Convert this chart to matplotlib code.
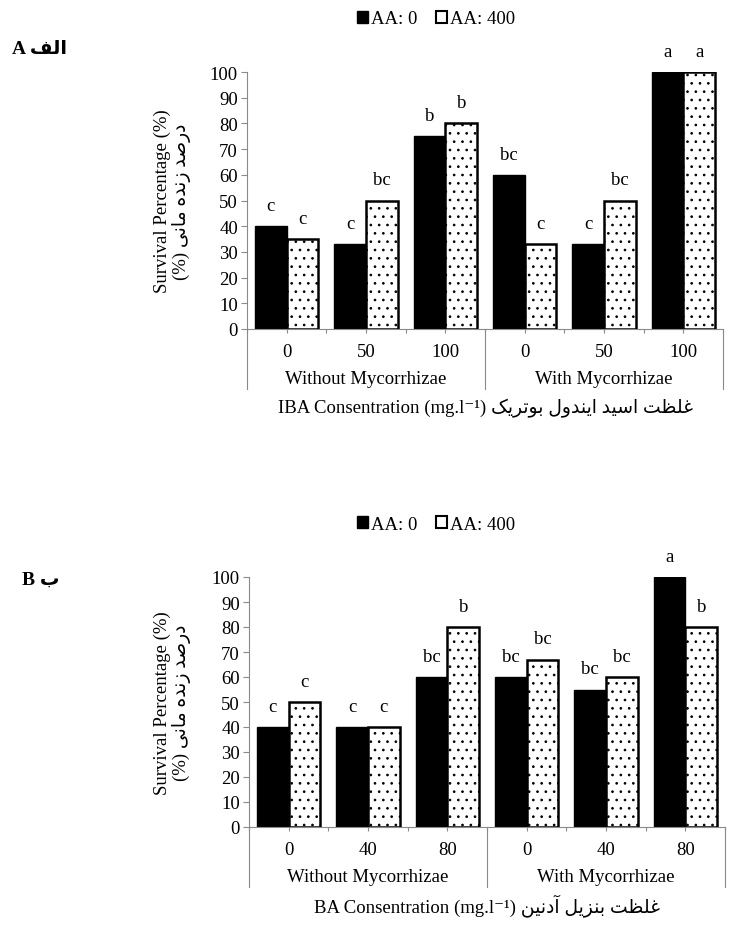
import numpy as np
import matplotlib
matplotlib.use('Agg')
import matplotlib.pyplot as plt
from matplotlib.patches import Patch

plt.rcParams['font.family'] = ['Liberation Serif', 'DejaVu Sans']
plt.rcParams['hatch.linewidth'] = 0.7

# --- data ---
series = ['AA: 0', 'AA: 400']
groups = ['Without Mycorrhizae', 'With Mycorrhizae']

doses_a = ['0', '50', '100', '0', '50', '100']
aa0_a = [40, 33, 75, 60, 33, 100]
aa400_a = [35, 50, 80, 33, 50, 100]
let0_a = ['c', 'c', 'b', 'bc', 'c', 'a']
let400_a = ['c', 'bc', 'b', 'c', 'bc', 'a']

doses_b = ['0', '40', '80', '0', '40', '80']
aa0_b = [40, 40, 60, 60, 55, 100]
aa400_b = [50, 40, 80, 67, 60, 80]
let0_b = ['c', 'c', 'bc', 'bc', 'bc', 'a']
let400_b = ['c', 'c', 'b', 'bc', 'bc', 'b']

# --- simple Persian shaping (matplotlib has no bidi/shaping) ---
FORMS = {
    'ا': ('\uFE8D', '\uFE8E', None, None),
    'آ': ('\uFE81', '\uFE82', None, None),
    'ب': ('\uFE8F', '\uFE90', '\uFE91', '\uFE92'),
    'ت': ('\uFE95', '\uFE96', '\uFE97', '\uFE98'),
    'د': ('\uFEA9', '\uFEAA', None, None),
    'ر': ('\uFEAD', '\uFEAE', None, None),
    'ز': ('\uFEAF', '\uFEB0', None, None),
    'س': ('\uFEB1', '\uFEB2', '\uFEB3', '\uFEB4'),
    'ص': ('\uFEB9', '\uFEBA', '\uFEBB', '\uFEBC'),
    'ظ': ('\uFEC5', '\uFEC6', '\uFEC7', '\uFEC8'),
    'غ': ('\uFECD', '\uFECE', '\uFECF', '\uFED0'),
    'ف': ('\uFED1', '\uFED2', '\uFED3', '\uFED4'),
    'ک': ('\uFB8E', '\uFB8F', '\uFB90', '\uFB91'),
    'ل': ('\uFEDD', '\uFEDE', '\uFEDF', '\uFEE0'),
    'م': ('\uFEE1', '\uFEE2', '\uFEE3', '\uFEE4'),
    'ن': ('\uFEE5', '\uFEE6', '\uFEE7', '\uFEE8'),
    'ه': ('\uFEE9', '\uFEEA', '\uFEEB', '\uFEEC'),
    'و': ('\uFEED', '\uFEEE', None, None),
    'ی': ('\uFBFC', '\uFBFD', '\uFBFE', '\uFBFF'),
}


def shape(text):
    out = []
    n = len(text)
    for i, c in enumerate(text):
        if c not in FORMS:
            out.append(c)
            continue
        iso, fin, ini, med = FORMS[c]
        prev_j = i > 0 and text[i - 1] in FORMS and FORMS[text[i - 1]][2] is not None
        next_j = i < n - 1 and text[i + 1] in FORMS and ini is not None
        if prev_j and next_j:
            out.append(med)
        elif prev_j:
            out.append(fin)
        elif next_j:
            out.append(ini)
        else:
            out.append(iso)
    return ''.join(reversed(out))


W, H = 732, 945
fig = plt.figure(figsize=(W / 100, H / 100), dpi=100)

AX_COLOR = '#8a8a8a'
FS = 13.5


def draw_panel(top, bottom, left, right, doses, v0, v1, l0, l1, xtitle):
    ax = fig.add_axes([left / W, 1 - bottom / H, (right - left) / W, (bottom - top) / H])
    hpx = bottom - top
    x = np.arange(len(doses)) + 0.5
    w = 0.4
    b0 = ax.bar(x - w / 2, v0, w, color='black', edgecolor='black', linewidth=1)
    b1 = ax.bar(x + w / 2, v1, w, color='white', edgecolor='black', linewidth=1.8, hatch='..')
    for bars, labs in ((b0, l0), (b1, l1)):
        for rect, lab in zip(bars, labs):
            ax.annotate(lab, (rect.get_x() + rect.get_width() / 2, rect.get_height()),
                        xytext=(0, 16), textcoords='offset pixels', ha='center',
                        va='baseline', fontsize=FS, annotation_clip=False)

    ax.set_xlim(0, len(doses))
    ax.set_ylim(0, 100)
    ax.set_yticks(np.arange(0, 101, 10))
    ax.set_xticks(np.arange(0, len(doses) + 0.01, 0.5))
    ax.set_xticklabels([])
    ax.tick_params(axis='y', length=4.5, width=0.8, color=AX_COLOR, pad=2, labelsize=FS)
    ax.tick_params(axis='x', length=3, width=0.8, color=AX_COLOR)
    for s in ['top', 'right']:
        ax.spines[s].set_visible(False)
    for s in ['left', 'bottom']:
        ax.spines[s].set_color(AX_COLOR)
        ax.spines[s].set_linewidth(0.8)

    tr = ax.get_xaxis_transform()
    for xs in [0, 3, 6]:
        ax.plot([xs, xs], [0, -60 / hpx], transform=tr, color=AX_COLOR, lw=0.8, clip_on=False)
    for xi, d in zip(x, doses):
        ax.text(xi, -23 / hpx, d, transform=tr, ha='center', va='center', fontsize=FS)
    for gx, g in zip([1.5, 4.5], groups):
        ax.text(gx, -50 / hpx, g, transform=tr, ha='center', va='center', fontsize=FS)
    ax.text(3, -78 / hpx, xtitle, transform=tr, ha='center', va='center', fontsize=FS)

    # y label (English + Persian)
    ylab = 'Survival Percentage (%)\n' + '(%) ' + shape('درصد زنده مانی')
    fig.text(172 / W, 1 - (top + bottom) / 2 / H, ylab, rotation=90, ha='center', va='center',
             multialignment='center', fontsize=FS, linespacing=1.05)

    # legend above panel
    handles = [Patch(facecolor='black', edgecolor='black'),
               Patch(facecolor='white', edgecolor='black', linewidth=1.5)]
    fig.legend(handles, series, loc='center', bbox_to_anchor=(436 / W, 1 - (top - 53) / H),
               ncol=2, frameon=False, handlelength=0.6, handleheight=0.6,
               handletextpad=0.15, columnspacing=1.0, fontsize=FS)
    return ax


draw_panel(73, 330, 247, 723, doses_a, aa0_a, aa400_a, let0_a, let400_a,
           'IBA Consentration (mg.l\u207b\u00b9) ' + shape('غلظت اسید ایندول بوتریک'))
draw_panel(578, 828, 249, 725, doses_b, aa0_b, aa400_b, let0_b, let400_b,
           'BA Consentration (mg.l\u207b\u00b9) ' + shape('غلظت بنزیل آدنین'))

fig.text(12 / W, 1 - 50 / H, 'A ' + shape('الف'), fontweight='bold', fontsize=14, va='center')
fig.text(22 / W, 1 - 580 / H, 'B ' + shape('ب'), fontweight='bold', fontsize=14, va='center')

fig.savefig('out.png', dpi=100)
